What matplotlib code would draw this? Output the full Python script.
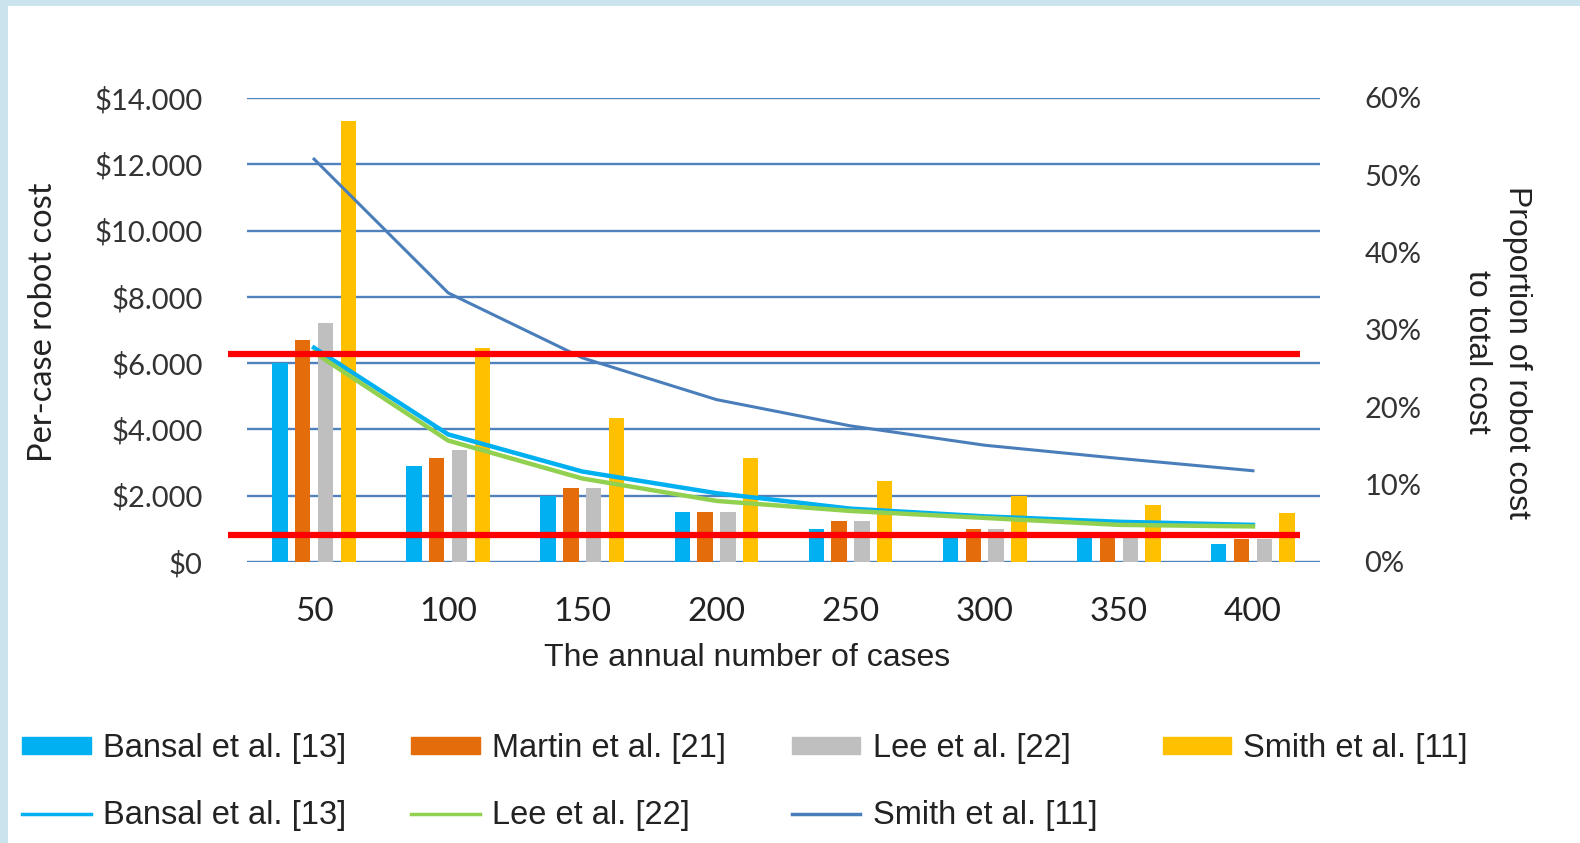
import matplotlib
matplotlib.use("Agg")
import matplotlib.pyplot as plt
from matplotlib.patches import Patch, Rectangle
from matplotlib.lines import Line2D
import numpy as np

# categories
cases = ["50", "100", "150", "200", "250", "300", "350", "400"]

# per-case robot cost (bars, $)
bansal_cost = [6000, 2900, 2000, 1500, 1000, 800, 750, 550]
martin_cost = [6700, 3130, 2220, 1500, 1250, 1000, 780, 700]
lee_cost = [7200, 3370, 2230, 1500, 1250, 1000, 780, 700]
smith_cost = [13300, 6450, 4330, 3130, 2430, 1980, 1730, 1490]

# proportion of robot cost to total cost (lines, %)
bansal_prop = [27.7, 16.5, 11.7, 8.9, 6.9, 5.9, 5.2, 4.8]
lee_prop = [27.1, 15.7, 10.8, 7.9, 6.6, 5.7, 4.8, 4.6]
smith_prop = [52.1, 34.8, 26.4, 21.0, 17.6, 15.1, 13.4, 11.8]

# red reference lines (left axis, $)
red_levels = [6290, 820]

cost_ticks = [0, 2000, 4000, 6000, 8000, 10000, 12000, 14000]
prop_ticks = [0, 10, 20, 30, 40, 50, 60]

C_BLUE = "#00b0f0"
C_ORANGE = "#e46c0a"
C_GRAY = "#bfbfbf"
C_YELLOW = "#ffc000"
C_GREEN = "#92d050"
C_SMITH = "#4a7ebb"
C_GRID = "#4f81bd"

calibri = ["Lato", "DejaVu Sans"]
arial = ["Liberation Sans", "DejaVu Sans"]

W, H = 1580, 843
fig = plt.figure(figsize=(15.8, 8.43), dpi=100)
fig.patch.set_facecolor("#c9e4ed")
fig.patches.append(Rectangle((8 / W, 0), 1, 1 - 6 / H, transform=fig.transFigure,
                             facecolor="white", edgecolor="none", zorder=-5))

ax = fig.add_axes([247 / W, 1 - 562 / H, 1073 / W, 464 / H])
ax.set_facecolor("none")
x = np.arange(len(cases))
w = 0.115
offs = [-0.255, -0.085, 0.085, 0.255]
ax.bar(x + offs[0], bansal_cost, w, color=C_BLUE, zorder=3)
ax.bar(x + offs[1], martin_cost, w, color=C_ORANGE, zorder=3)
ax.bar(x + offs[2], lee_cost, w, color=C_GRAY, zorder=3)
ax.bar(x + offs[3], smith_cost, w, color=C_YELLOW, zorder=3)

ax.set_xlim(-0.5, len(cases) - 0.5)
ax.set_ylim(0, 14000)
ax.set_yticks(cost_ticks)
ax.set_yticklabels(["$0"] + ["${:,}".format(t).replace(",", ".") for t in cost_ticks[1:]],
                   fontsize=21, family=calibri, color="#333333")
ax.set_xticks(x)
ax.set_xticklabels(cases, fontsize=24, family=calibri, color="#222222")
ax.tick_params(axis="y", length=0, pad=32)
ax.tick_params(axis="x", length=0, pad=25)
for t in cost_ticks:
    ax.axhline(t, color=C_GRID, lw=1.7, zorder=1)
for s in ax.spines.values():
    s.set_visible(False)

ax2 = ax.twinx()
ax2.set_ylim(0, 60)
ax2.set_yticks(prop_ticks)
ax2.set_yticklabels([f"{t}%" for t in prop_ticks], fontsize=21, family=calibri, color="#333333")
ax2.tick_params(axis="y", length=0, pad=32)
for s in ax2.spines.values():
    s.set_visible(False)
ax2.plot(x, bansal_prop, color=C_BLUE, lw=3.2, zorder=4)
ax2.plot(x, lee_prop, color=C_GREEN, lw=3.2, zorder=4)
ax2.plot(x, smith_prop, color=C_SMITH, lw=2.2, zorder=4)

# red annotation lines drawn in left-axis units
for lv in red_levels:
    ax2.plot([-0.643, 7.35], [lv, lv], color="#ff0000", lw=4.5, transform=ax.transData,
             clip_on=False, zorder=6, solid_capstyle="butt")

fig.text(43 / W, 1 - 322 / H, "Per-case robot cost", rotation=90, ha="center", va="center",
         fontsize=23.5, family=calibri, color="#222222")
fig.text(1497 / W, 1 - 352 / H, "Proportion of robot cost\nto total cost", rotation=270,
         ha="center", va="center", fontsize=23, family=arial,
         color="#222222", linespacing=1.45, multialignment="center")
fig.text(747 / W, 1 - 658 / H, "The annual number of cases", ha="center", va="center",
         fontsize=23, family=arial, color="#222222")

blank = Patch(facecolor="none", edgecolor="none")
handles = [Patch(color=C_BLUE), Line2D([], [], color=C_BLUE, lw=2.5),
           Patch(color=C_ORANGE), Line2D([], [], color=C_GREEN, lw=2.5),
           Patch(color=C_GRAY), Line2D([], [], color=C_SMITH, lw=2.5),
           Patch(color=C_YELLOW), blank]
labels = ["Bansal et al. [13]", "Bansal et al. [13]",
          "Martin et al. [21]", "Lee et al. [22]",
          "Lee et al. [22]", "Smith et al. [11]",
          "Smith et al. [11]", ""]
leg = fig.legend(handles, labels, ncol=4, loc="upper left", bbox_to_anchor=(22 / W, 1 - 733 / H),
                 frameon=False, borderpad=0, borderaxespad=0, handlelength=2.1, handleheight=0.42,
                 handletextpad=0.38, columnspacing=2.0, labelspacing=1.1,
                 prop={"family": arial, "size": 23.5})
for t in leg.get_texts():
    t.set_color("#222222")

fig.savefig("out.png", dpi=100, facecolor=fig.get_facecolor())
